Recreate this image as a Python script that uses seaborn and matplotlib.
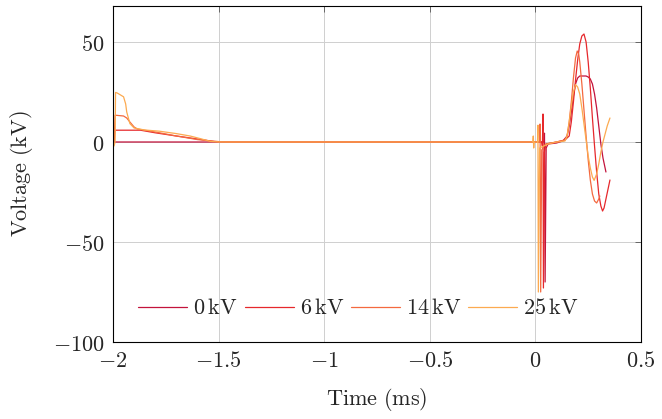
import numpy as np
import pandas as pd
import matplotlib
matplotlib.use("Agg")
import matplotlib.pyplot as plt
import seaborn as sns
from matplotlib.lines import Line2D

# ---------------- data ----------------
series_names = ["0 kV", "6 kV", "14 kV", "25 kV"]
legend_labels = [r"$0\,\mathrm{kV}$", r"$6\,\mathrm{kV}$", r"$14\,\mathrm{kV}$", r"$25\,\mathrm{kV}$"]
colors = ["#c3133c", "#e6282c", "#f4693f", "#fcaa50"]

t_0kv = [-2.0, 0.0, 0.040, 0.043, 0.046, 0.051, 0.060, 0.100, 0.130, 0.150, 0.160, 0.170,
         0.180, 0.190, 0.200, 0.210, 0.220, 0.230, 0.240, 0.250, 0.260, 0.270, 0.280,
         0.290, 0.300, 0.310, 0.320, 0.334]
v_0kv = [0.0, 0.0, 0.0, 4.4, -70.0, -3.0, -1.0, -0.5, 0.5, 3.0, 8.0, 15.0,
         23.0, 29.0, 32.0, 33.0, 33.0, 33.0, 33.0, 32.5, 31.5, 29.0, 24.0,
         17.0, 8.0, -1.0, -8.0, -15.0]

t_6kv = [-2.0, -1.995, -1.990, -1.870, -1.800, -1.700, -1.600, -1.520, -1.450, 0.030,
         0.033, 0.036, 0.038, 0.043, 0.050, 0.100, 0.140, 0.160, 0.170, 0.180, 0.190,
         0.200, 0.210, 0.220, 0.230, 0.240, 0.250, 0.260, 0.270, 0.280, 0.290, 0.300,
         0.310, 0.318, 0.325, 0.335, 0.345, 0.353]
v_6kv = [0.0, 0.0, 5.9, 5.9, 4.6, 3.0, 1.5, 0.2, 0.0, 0.0,
         -2.0, 14.0, -73.0, -5.0, -1.0, 0.0, 1.0, 3.0, 10.0, 20.0, 31.0,
         41.0, 49.0, 53.0, 54.0, 50.0, 40.0, 27.0, 12.0, -2.0, -15.0, -26.0,
         -32.0, -34.5, -33.0, -28.0, -23.0, -19.0]

t_14kv = [-2.0, -1.995, -1.990, -1.950, -1.935, -1.920, -1.900, -1.885, -1.800, -1.700,
          -1.600, -1.500, -1.450, 0.020, 0.022, 0.025, 0.030, 0.040, 0.050, 0.100, 0.140,
          0.150, 0.160, 0.170, 0.180, 0.190, 0.198, 0.205, 0.210, 0.220, 0.230, 0.240,
          0.250, 0.260, 0.270, 0.280, 0.290, 0.300, 0.305]
v_14kv = [0.0, 0.0, 13.4, 13.0, 12.0, 10.0, 7.5, 6.5, 5.0, 3.0,
          1.2, 0.2, 0.0, 0.0, 9.0, -75.0, -4.0, -2.0, -1.0, 0.0, 1.0,
          3.0, 10.0, 20.0, 32.0, 42.0, 45.5, 44.0, 40.0, 29.0, 16.0, 3.0,
          -9.0, -19.0, -26.0, -29.5, -30.5, -28.5, -27.0]

t_25kv = [-2.0, -1.995, -1.990, -1.988, -1.980, -1.950, -1.940, -1.935, -1.920, -1.900,
          -1.850, -1.780, -1.700, -1.635, -1.580, -1.540, -1.500, -0.012, -0.010, -0.008,
          -0.006, 0.010, 0.012, 0.014, 0.020, 0.040, 0.060, 0.100, 0.140, 0.150, 0.160,
          0.170, 0.180, 0.190, 0.200, 0.210, 0.220, 0.230, 0.240, 0.250, 0.260, 0.270,
          0.278, 0.290, 0.300, 0.310, 0.320, 0.330, 0.340, 0.353]
v_25kv = [0.0, -2.0, 0.0, 24.8, 24.5, 22.6, 19.0, 15.0, 9.2, 7.0,
          6.0, 5.4, 4.2, 3.0, 1.5, 0.3, 0.0, 0.0, 3.0, -3.0,
          0.0, 0.0, 8.4, -75.0, -3.0, -2.0, -1.0, 0.0, 0.5, 3.0, 10.0,
          18.0, 25.0, 28.7, 27.5, 24.0, 17.0, 9.0, 1.0, -7.0, -13.0, -17.5,
          -19.2, -16.0, -11.0, -5.0, 0.0, 4.0, 8.0, 12.0]

x_ticks = [-2.0, -1.5, -1.0, -0.5, 0.0, 0.5]
x_ticklabels = [r"$-2$", r"$-1.5$", r"$-1$", r"$-0.5$", r"$0$", r"$0.5$"]
y_ticks = [-100, -50, 0, 50]
y_ticklabels = [r"$-100$", r"$-50$", r"$0$", r"$50$"]

# ---------------- build table ----------------
frames = []
for name, t, v in zip(series_names,
                      [t_0kv, t_6kv, t_14kv, t_25kv],
                      [v_0kv, v_6kv, v_14kv, v_25kv]):
    frames.append(pd.DataFrame({"Time": t, "Voltage": v, "Series": name}))
df = pd.concat(frames, ignore_index=True)

# ---------------- style ----------------
sns.set_style("white")
plt.rcParams["mathtext.fontset"] = "cm"
plt.rcParams["font.family"] = ["DejaVu Serif"]
FS = 16

fig = plt.figure(figsize=(6.62, 4.19), dpi=100)
ax = fig.add_axes([113 / 662, 1 - 342 / 419, 528 / 662, 336 / 419])

sns.lineplot(data=df, x="Time", y="Voltage", hue="Series", hue_order=series_names,
             palette=dict(zip(series_names, colors)), estimator=None, sort=False,
             units="Series", linewidth=0.9, ax=ax, legend=False)

ax.set_xlim(-2.0, 0.5)
ax.set_ylim(-100, 68)
ax.set_xticks(x_ticks)
ax.set_xticklabels(x_ticklabels)
ax.set_yticks(y_ticks)
ax.set_yticklabels(y_ticklabels)
ax.tick_params(axis="both", which="major", direction="in", length=4, width=0.6,
               color="#555555", labelsize=FS, top=True, right=True, pad=6)
ax.grid(True, color="#cfcfcf", linewidth=0.7)
ax.set_axisbelow(True)
for s in ax.spines.values():
    s.set_color("black")
    s.set_linewidth(0.8)

ax.set_xlabel(r"$\mathrm{Time\ (ms)}$", fontsize=FS, labelpad=10)
ax.set_ylabel(r"$\mathrm{Voltage\ (kV)}$", fontsize=FS, labelpad=13)

handles = [Line2D([], [], color=c, linewidth=0.9) for c in colors]
ax.legend(handles, legend_labels, loc="center", bbox_to_anchor=(0.465, 0.10),
          ncol=4, frameon=False, fontsize=FS, handlelength=2.2,
          handletextpad=0.27, columnspacing=0.32, borderaxespad=0)

fig.savefig("out.png", dpi=100)
